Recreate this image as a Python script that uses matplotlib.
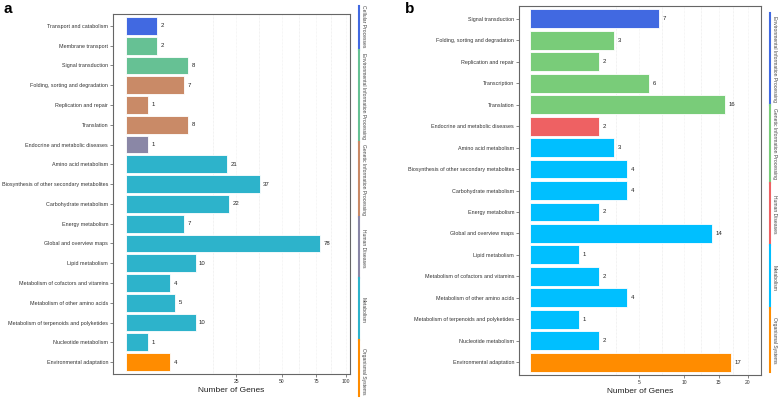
import numpy as np
import matplotlib
matplotlib.use("Agg")
import matplotlib.pyplot as plt

plt.rcParams['font.family'] = ['Liberation Sans', 'DejaVu Sans']

# ---- data, panel a ----
cats_a = ["Transport and catabolism", "Membrane transport", "Signal transduction",
          "Folding, sorting and degradation", "Replication and repair", "Translation",
          "Endocrine and metabolic diseases", "Amino acid metabolism",
          "Biosynthesis of other secondary metabolites", "Carbohydrate metabolism",
          "Energy metabolism", "Global and overview maps", "Lipid metabolism",
          "Metabolism of cofactors and vitamins", "Metabolism of other amino acids",
          "Metabolism of terpenoids and polyketides", "Nucleotide metabolism",
          "Environmental adaptation"]
vals_a = [2, 2, 8, 7, 1, 8, 1, 21, 37, 22, 7, 78, 10, 4, 5, 10, 1, 4]
groups_a = ["Cellular Processes"] + ["Environmental Information Processing"] * 2 + \
           ["Genetic Information Processing"] * 3 + ["Human Diseases"] + \
           ["Metabolism"] * 10 + ["Organismal Systems"]
ticks_a = [25, 50, 75, 100]

# ---- data, panel b ----
cats_b = ["Signal transduction", "Folding, sorting and degradation", "Replication and repair",
          "Transcription", "Translation", "Endocrine and metabolic diseases",
          "Amino acid metabolism", "Biosynthesis of other secondary metabolites",
          "Carbohydrate metabolism", "Energy metabolism", "Global and overview maps",
          "Lipid metabolism", "Metabolism of cofactors and vitamins",
          "Metabolism of other amino acids", "Metabolism of terpenoids and polyketides",
          "Nucleotide metabolism", "Environmental adaptation"]
vals_b = [7, 3, 2, 6, 16, 2, 3, 4, 4, 2, 14, 1, 2, 4, 1, 2, 17]
groups_b = ["Environmental Information Processing"] + ["Genetic Information Processing"] * 4 + \
           ["Human Diseases"] + ["Metabolism"] * 10 + ["Organismal Systems"]
ticks_b = [5, 10, 15, 20]

colors_a = {"Cellular Processes": "#4169E1",
            "Environmental Information Processing": "#66C194",
            "Genetic Information Processing": "#C98A67",
            "Human Diseases": "#8A87A6",
            "Metabolism": "#2DB3CB",
            "Organismal Systems": "#FF8C00"}
colors_b = {"Environmental Information Processing": "#4169E1",
            "Genetic Information Processing": "#79CC79",
            "Human Diseases": "#EE6163",
            "Metabolism": "#00BFFF",
            "Organismal Systems": "#FF8C00"}

# side strips: (group, top px, bottom px, text centre px)
strips_a = [("Cellular Processes", 6, 50, 26),
            ("Environmental Information Processing", 50, 142, 96),
            ("Genetic Information Processing", 142, 217, 180),
            ("Human Diseases", 217, 278, 248),
            ("Metabolism", 278, 340, 310),
            ("Organismal Systems", 340, 396, 371)]
strips_b = [("Environmental Information Processing", 13, 105, 59),
            ("Genetic Information Processing", 105, 183, 144),
            ("Human Diseases", 183, 245, 214),
            ("Metabolism", 245, 308, 278),
            ("Organismal Systems", 308, 372, 340)]

W, H = 778, 398
fig = plt.figure(figsize=(W / 100, H / 100), dpi=100)


def fwd(x):
    x = np.asarray(x, dtype=float)
    return np.sign(x) * np.sqrt(np.abs(x))


def inv(y):
    y = np.asarray(y, dtype=float)
    return np.sign(y) * y ** 2


def panel(rect, cats, vals, groups, colors, ticks, xlim, height):
    ax = fig.add_axes(rect)
    n = len(cats)
    y = np.arange(n)
    ax.set_xscale('function', functions=(fwd, inv))
    cols = [colors[g] for g in groups]
    ax.barh(y, vals, height=height, color=cols, edgecolor='white', linewidth=0.6, zorder=3)
    for yi, v in zip(y, vals):
        ax.annotate(str(v), (v, yi), xytext=(2.5, 0), textcoords='offset points',
                    va='center', ha='left', fontsize=4.3, color='#222222')
    ax.set_yticks(y)
    ax.set_yticklabels(cats, fontsize=3.9, color='#333333')
    ax.set_ylim(n - 0.4, -0.6)
    ax.set_xlim(*xlim)
    ax.set_xticks(ticks)
    ax.set_xticklabels([str(t) for t in ticks], fontsize=3.6, color='#333333')
    # minor grid halfway between breaks in sqrt space
    tt = fwd(ticks)
    ext = np.concatenate([[tt[0] - (tt[1] - tt[0])], tt])
    minors = inv((ext[:-1] + ext[1:]) / 2)
    for m in minors:
        ax.axvline(m, color='#e6e6e6', lw=0.5, ls=(0, (1, 1)), zorder=0)
    for t in ticks:
        ax.axvline(t, color='#eeeeee', lw=0.5, ls=(0, (1, 1)), zorder=0)
    ax.tick_params(axis='both', length=2, width=0.5, color='#555555', pad=1.5)
    for s in ax.spines.values():
        s.set_color('#666666')
        s.set_linewidth(0.8)
    ax.set_xlabel("Number of Genes", fontsize=6, color='#222222', labelpad=2)
    return ax


ax_a = panel([113 / W, 1 - 374 / H, 237 / W, 360 / H], cats_a, vals_a, groups_a, colors_a,
             ticks_a, (-0.35, 103.7), 0.9)
ax_b = panel([519 / W, 1 - 375 / H, 242 / W, 369 / H], cats_b, vals_b, groups_b, colors_b,
             ticks_b, (-0.05, 22.45), 0.88)


def side(strips, colors, xline):
    for g, top, bot, mid in strips:
        fig.add_artist(plt.Line2D([xline / W, xline / W], [1 - top / H, 1 - bot / H],
                                  color=colors[g], lw=1.5, transform=fig.transFigure))
        fig.text((xline + 4.5) / W, 1 - mid / H, g, rotation=270, ha='center', va='center',
                 fontsize=3.6, color='#444444')


side(strips_a, colors_a, 359)
side(strips_b, colors_b, 770)

fig.text(3 / W, 1 - 9 / H, "a", fontsize=11, fontweight='bold', va='center', ha='left')
fig.text(405 / W, 1 - 9 / H, "b", fontsize=11, fontweight='bold', va='center', ha='left')

fig.savefig("out.png", dpi=100)
